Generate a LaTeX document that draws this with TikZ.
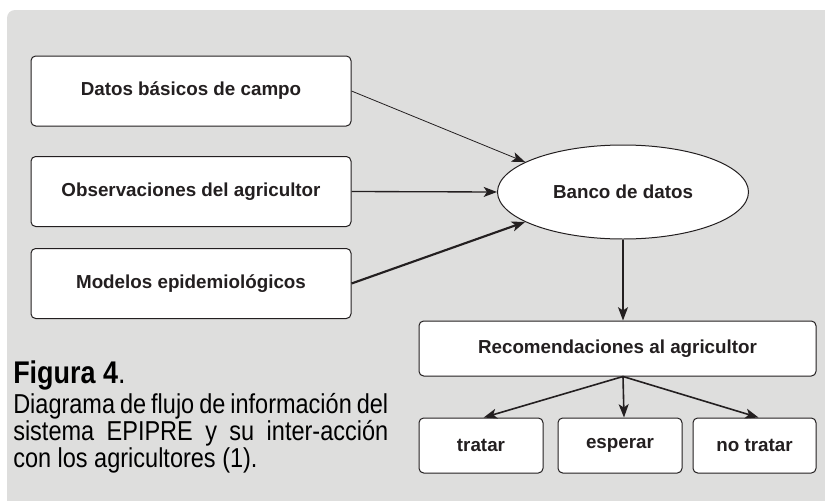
\documentclass[tikz,border=0pt]{standalone}
\usepackage{fontspec}
\setmainfont{Liberation Sans}
\newfontfamily\capfont{Liberation Sans}[FakeStretch=0.86]
\usetikzlibrary{shapes.geometric,arrows.meta}
\definecolor{panel}{RGB}{222,222,221}
\definecolor{ink}{RGB}{35,31,32}
\tikzset{
  box/.style={draw=ink, line width=0.75pt, fill=white, rounded corners=3.5pt, inner sep=0pt,
    font=\fontsize{14.1}{16}\selectfont\bfseries, text=ink},
  bigbox/.style={box, minimum width=240pt, minimum height=52.5pt},
  outbox/.style={box, minimum width=93pt, minimum height=41.25pt},
  dbnode/.style={ellipse, draw=ink, line width=0.75pt, fill=white, inner sep=0pt,
    minimum width=188.25pt, minimum height=70.5pt, font=\fontsize{14.1}{16}\selectfont\bfseries, text=ink},
  arr/.style={draw=ink, -{Stealth[length=10pt,width=7.5pt,inset=2.5pt]}},
  captxt/.style={anchor=base west, inner sep=0pt, text=black}
}
\begin{document}
\begin{tikzpicture}[x=0.75pt,y=-0.75pt]
\useasboundingbox (0,0) rectangle (825,500);
\fill[white] (0,0) rectangle (825,500);
\begin{scope}
  \clip (0,0) rectangle (825,500);
  \fill[panel, rounded corners=6pt] (7,10) rectangle (845,520);
\end{scope}

\node[bigbox] (b1) at (191,91) {Datos básicos de campo};
\node[bigbox] (b2) at (191,191.5) {Observaciones del agricultor};
\node[bigbox] (b3) at (191,283.5) {Modelos epidemiológicos};
\node[dbnode] (db) at (623,192) {\raisebox{-3pt}{Banco de datos}};
\node[box, minimum width=297.75pt, minimum height=41.25pt] (rec) at (617.5,348.5) {Recomendaciones al agricultor};
\node[outbox] (t) at (481,445.5) {\raisebox{-2pt}{tratar}};
\node[outbox] (e) at (620,445.5) {esperar};
\node[outbox, minimum width=92.25pt] (nt) at (754.5,445.5) {\raisebox{-2pt}{no tratar}};

\draw[arr, line width=0.6pt] (b1.east) -- (db.163);
\draw[arr, line width=1pt] (b2.east) -- (db.west);
\draw[arr, line width=1.6pt] (b3.east) -- (db.197);
\draw[arr, line width=1pt] (db.south) -- (db.south |- rec.north);
\coordinate (split) at (db.south |- rec.south);
\draw[arr, line width=1.2pt] (split) -- ([xshift=2pt]t.north);
\draw[arr, line width=1.2pt] (split) -- ([xshift=3pt]e.north);
\draw[arr, line width=1.2pt] (split) -- ([xshift=3pt]nt.north);

\node[captxt, font=\capfont\fontsize{23.5}{26}\selectfont] (fig) at (13,383) {\textbf{Figura 4}.};
\node[captxt, font=\capfont\fontsize{20.5}{22}\selectfont] (c1) at (13,413) {\makebox[281.25pt][s]{Diagrama de flujo de información del}};
\node[captxt, font=\capfont\fontsize{20.5}{22}\selectfont] (c2) at (13,440) {\makebox[281.25pt][s]{sistema EPIPRE y su inter-acción}};
\node[captxt, font=\capfont\fontsize{20.5}{22}\selectfont] (c3) at (13,467) {con los agricultores (1).};
\end{tikzpicture}
\end{document}
